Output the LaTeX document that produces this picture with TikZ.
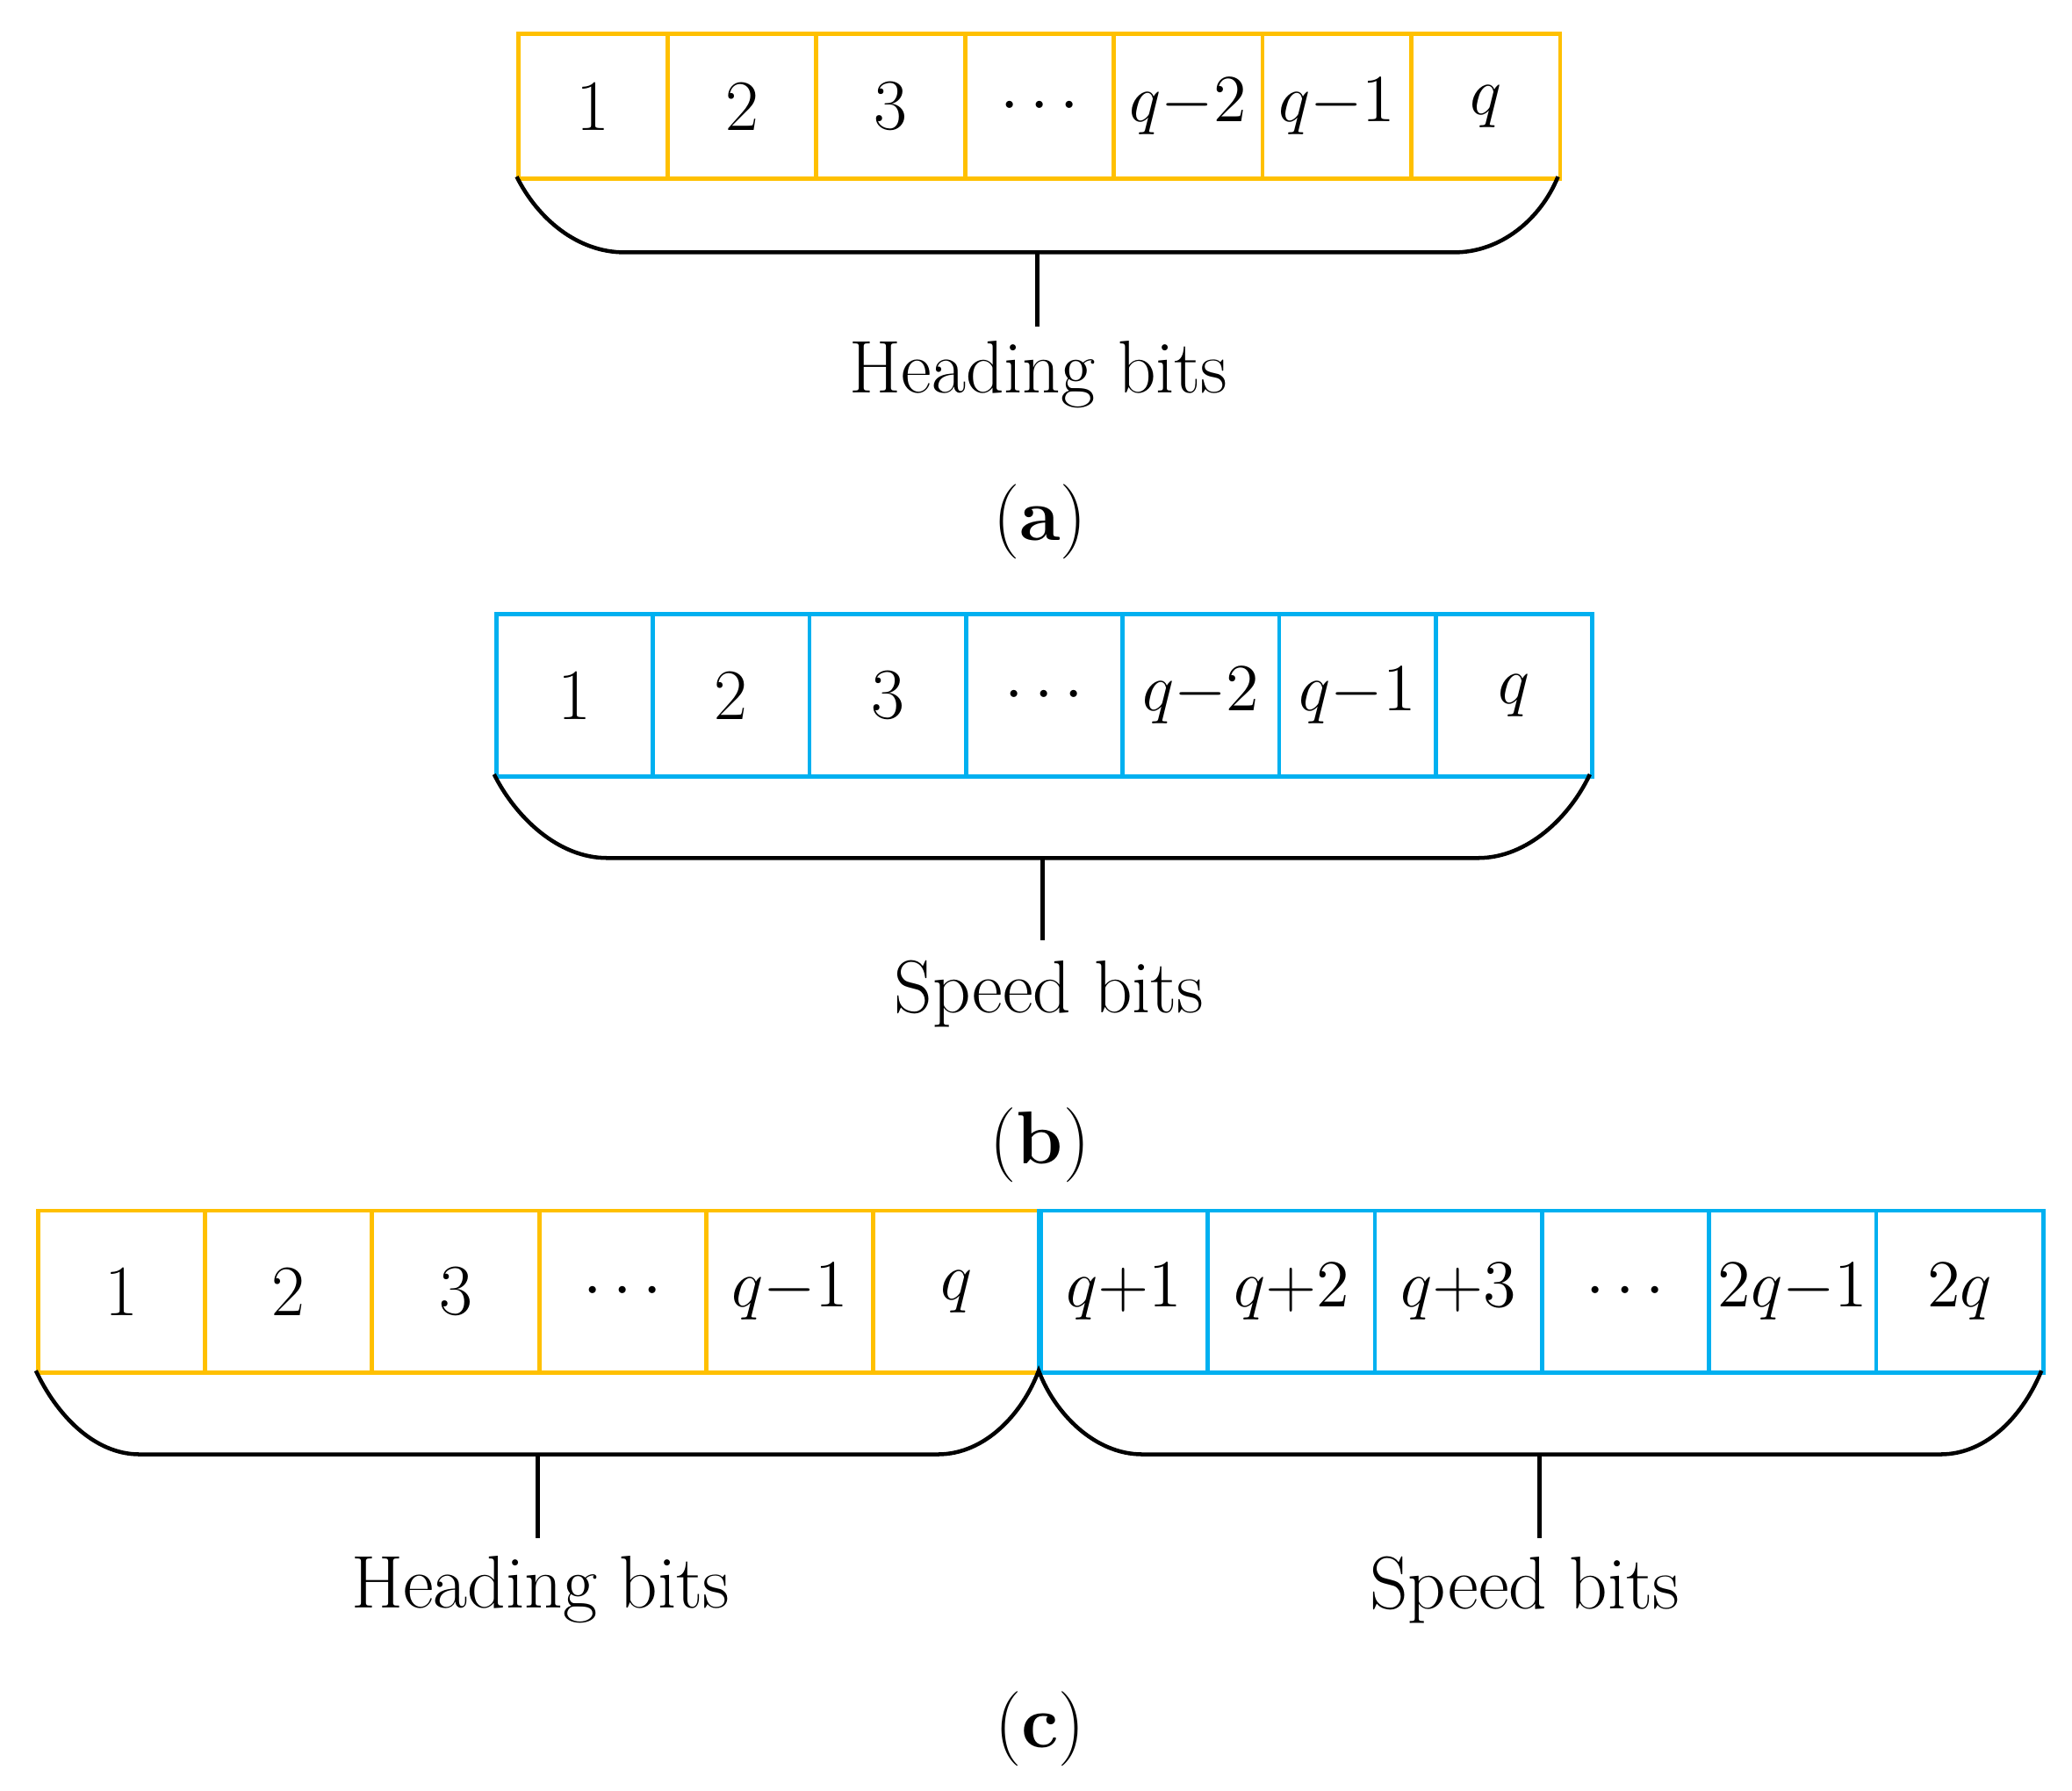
\documentclass[tikz,border=0pt]{standalone}
\begin{document}
\begin{tikzpicture}[x=0.1mm,y=-0.1mm,
  cell/.style={draw=#1,line width=0.9pt,minimum height=0pt,inner sep=0pt,anchor=north west},
  brace/.style={draw=black,line width=0.85pt},
  txt/.style={font=\fontsize{16}{19}\selectfont},
  num/.style={font=\fontsize{15.5}{18}\selectfont}]
\definecolor{yel}{HTML}{FFC000}
\definecolor{blu}{HTML}{00B0F0}
\useasboundingbox (0,0) rectangle (1560,1348);
% (a)
\foreach \t [count=\i] in {1,2,3,$\cdots$,$q{-}2$,$q{-}1$,$q$}{
  \node[cell=yel,minimum width=112*0.1mm,minimum height=109*0.1mm,num] (a\i) at ({389+112*(\i-1)},24) {\t};}
\draw[brace] (389,133) .. controls (405,165) and (435,190) .. (470,190) -- (1095,190) .. controls (1130,190) and (1160,165) .. (1173,133);
\coordinate (as) at (781,190);
\node[txt] (al) at (782,282) {Heading bits};
\draw[brace] (as) -- (781,246);
\node[txt] (ac) at (783,393) {(\textbf{a})};
% (b)
\foreach \t [count=\i] in {1,2,3,$\cdots$,$q{-}2$,$q{-}1$,$q$}{
  \node[cell=blu,minimum width=117.9*0.1mm,minimum height=122*0.1mm,num] (b\i) at ({372+117.9*(\i-1)},461) {\t};}
\draw[brace] (372,583) .. controls (388,615) and (420,646) .. (457,646) -- (1113,646) .. controls (1150,646) and (1182,615) .. (1197,583);
\coordinate (bs) at (785,646);
\node[txt] (bl) at (790,748) {Speed bits};
\draw[brace] (bs) -- (785,708);
\node[txt] (bc) at (783,862) {(\textbf{b})};
% (c)
\foreach \t [count=\i] in {1,2,3,$\cdots$,$q{-}1$,$q$}{
  \node[cell=yel,minimum width=125.8*0.1mm,minimum height=122*0.1mm,num] (c\i) at ({27+125.8*(\i-1)},910) {\t};}
\foreach \t [count=\i] in {$q{+}1$,$q{+}2$,$q{+}3$,$\cdots$,$2q{-}1$,$2q$}{
  \node[cell=blu,minimum width=125.8*0.1mm,minimum height=122*0.1mm,num] (d\i) at ({782+125.8*(\i-1)},910) {\t};}
\draw[blu,line width=0.9pt] (782,910) -- (782,1032);
\draw[brace] (27,1032) .. controls (42,1064) and (70,1095) .. (105,1095) -- (706,1095) .. controls (742,1095) and (770,1064) .. (782,1032)
  .. controls (794,1064) and (824,1095) .. (860,1095) -- (1461,1095) .. controls (1497,1095) and (1524,1064) .. (1537,1032);
\coordinate (cs) at (405,1095);
\coordinate (ds) at (1159,1095);
\draw[brace] (cs) -- (405,1158);
\draw[brace] (ds) -- (1159,1158);
\node[txt] (cl) at (407,1197) {Heading bits};
\node[txt] (dl) at (1148,1197) {Speed bits};
\node[txt] (cc) at (783,1302) {(\textbf{c})};
\end{tikzpicture}
\end{document}
